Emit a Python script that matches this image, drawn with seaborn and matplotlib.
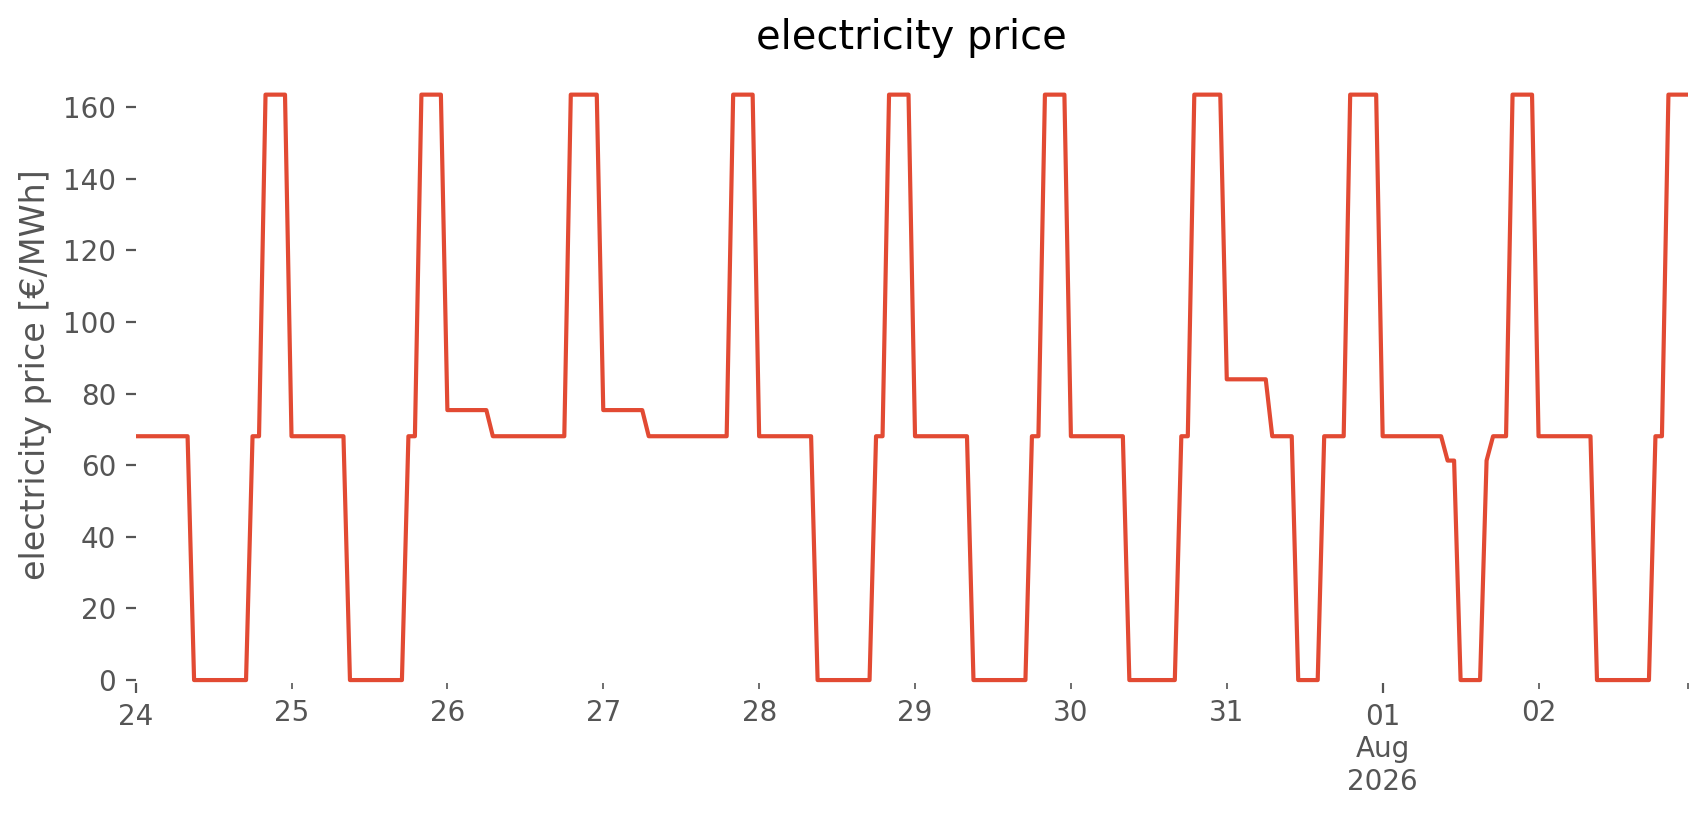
import pandas as pd
import matplotlib
matplotlib.use("Agg")
import matplotlib.pyplot as plt
import matplotlib.dates as mdates
from matplotlib.ticker import MultipleLocator, NullLocator
import seaborn as sns

# =============================================================================
# hourly electricity price [€/MWh], one list per day (hour 0 ... hour 23)

jul_24 = [68.1, 68.1, 68.1, 68.1, 68.1, 68.1, 68.1, 68.1, 68.1,
          0.0, 0.0, 0.0, 0.0, 0.0, 0.0, 0.0, 0.0, 0.0,
          68.1, 68.1, 163.5, 163.5, 163.5, 163.5]
jul_25 = [68.1, 68.1, 68.1, 68.1, 68.1, 68.1, 68.1, 68.1, 68.1,
          0.0, 0.0, 0.0, 0.0, 0.0, 0.0, 0.0, 0.0, 0.0,
          68.1, 68.1, 163.5, 163.5, 163.5, 163.5]
jul_26 = [75.4, 75.4, 75.4, 75.4, 75.4, 75.4, 75.4,
          68.1, 68.1, 68.1, 68.1, 68.1, 68.1, 68.1, 68.1, 68.1, 68.1, 68.1, 68.1,
          163.5, 163.5, 163.5, 163.5, 163.5]
jul_27 = [75.4, 75.4, 75.4, 75.4, 75.4, 75.4, 75.4,
          68.1, 68.1, 68.1, 68.1, 68.1, 68.1, 68.1, 68.1, 68.1, 68.1, 68.1, 68.1, 68.1,
          163.5, 163.5, 163.5, 163.5]
jul_28 = [68.1, 68.1, 68.1, 68.1, 68.1, 68.1, 68.1, 68.1, 68.1,
          0.0, 0.0, 0.0, 0.0, 0.0, 0.0, 0.0, 0.0, 0.0,
          68.1, 68.1, 163.5, 163.5, 163.5, 163.5]
jul_29 = [68.1, 68.1, 68.1, 68.1, 68.1, 68.1, 68.1, 68.1, 68.1,
          0.0, 0.0, 0.0, 0.0, 0.0, 0.0, 0.0, 0.0, 0.0,
          68.1, 68.1, 163.5, 163.5, 163.5, 163.5]
jul_30 = [68.1, 68.1, 68.1, 68.1, 68.1, 68.1, 68.1, 68.1, 68.1,
          0.0, 0.0, 0.0, 0.0, 0.0, 0.0, 0.0, 0.0,
          68.1, 68.1, 163.5, 163.5, 163.5, 163.5, 163.5]
jul_31 = [84.0, 84.0, 84.0, 84.0, 84.0, 84.0, 84.0,
          68.1, 68.1, 68.1, 68.1,
          0.0, 0.0, 0.0, 0.0,
          68.1, 68.1, 68.1, 68.1,
          163.5, 163.5, 163.5, 163.5, 163.5]
aug_01 = [68.1, 68.1, 68.1, 68.1, 68.1, 68.1, 68.1, 68.1, 68.1, 68.1,
          61.3, 61.3,
          0.0, 0.0, 0.0, 0.0,
          61.3, 68.1, 68.1, 68.1,
          163.5, 163.5, 163.5, 163.5]
aug_02 = [68.1, 68.1, 68.1, 68.1, 68.1, 68.1, 68.1, 68.1, 68.1,
          0.0, 0.0, 0.0, 0.0, 0.0, 0.0, 0.0, 0.0, 0.0,
          68.1, 68.1, 163.5, 163.5, 163.5, 163.5]

start = "2026-07-24 00:00"

major_ticks = ["2026-07-24 00:00", "2026-08-01 00:00"]
major_labels = ["24", "01\nAug\n2026"]
minor_ticks = ["2026-07-25 00:00", "2026-07-26 00:00", "2026-07-27 00:00",
               "2026-07-28 00:00", "2026-07-29 00:00", "2026-07-30 00:00",
               "2026-07-31 00:00", "2026-08-02 00:00", "2026-08-02 23:00"]
minor_labels = ["25", "26", "27", "28", "29", "30", "31", "02", ""]

# =============================================================================

price = jul_24 + jul_25 + jul_26 + jul_27 + jul_28 + jul_29 + jul_30 + jul_31 + aug_01 + aug_02
times = pd.date_range(start, periods=len(price), freq="h")
data = pd.DataFrame({"time": times, "price": price})

sns.set_style("white")
plt.rcParams["font.family"] = ["DejaVu Sans"]

grey = "#555555"

fig = plt.figure(figsize=(8.53, 4.075), dpi=200)
ax = fig.add_axes([0.0795, 0.1616, 0.9099, 0.7583])

sns.lineplot(data=data, x="time", y="price", color="#E24A33", linewidth=1.5, ax=ax)

ax.set_xlim(times[0], times[-1])
ax.set_ylim(-0.9, 171.7)

ax.set_title("electricity price", fontsize=14.4, color="black")
ax.set_ylabel("electricity price [€/MWh]", fontsize=12, color=grey)
ax.set_xlabel("")

for spine in ax.spines.values():
    spine.set_visible(False)
ax.grid(False)

ax.set_xticks(mdates.date2num(pd.to_datetime(major_ticks, format="%Y-%m-%d %H:%M")))
ax.set_xticklabels(major_labels)
ax.set_xticks(mdates.date2num(pd.to_datetime(minor_ticks, format="%Y-%m-%d %H:%M")), minor=True)
ax.set_xticklabels(minor_labels, minor=True)
ax.yaxis.set_major_locator(MultipleLocator(20))
ax.yaxis.set_minor_locator(NullLocator())

ax.tick_params(axis="x", which="major", bottom=True, direction="out", length=3.5,
               width=0.8, pad=3.5, colors=grey, labelsize=10)
ax.tick_params(axis="x", which="minor", bottom=True, direction="out", length=2,
               width=0.6, pad=3.5, colors=grey, labelsize=10)
ax.tick_params(axis="y", which="major", left=True, direction="out", length=3.5,
               width=0.8, pad=3.5, colors=grey, labelsize=10)

fig.savefig("out.png", dpi=200)
